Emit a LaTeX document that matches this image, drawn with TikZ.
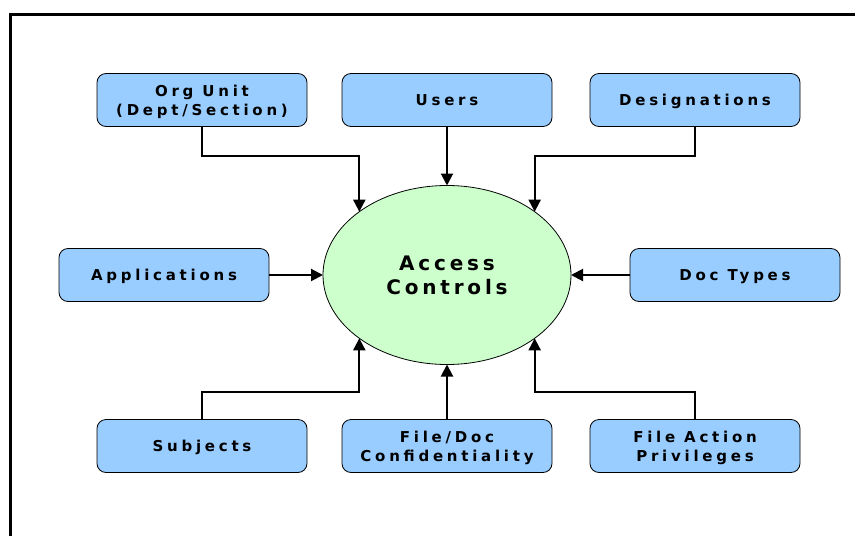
\documentclass[tikz,border=0pt]{standalone}
\usepackage{fontspec}
\newfontfamily\lblfont[LetterSpace=25]{DejaVu Sans}
\newfontfamily\hubfont[LetterSpace=19]{DejaVu Sans}
\usetikzlibrary{positioning,shapes.geometric,arrows.meta}

\begin{document}
\begin{tikzpicture}[x=1pt, y=-1pt, node distance = 57pt and 36pt,
  entity/.style = {draw, thick, fill={rgb,255:red,153;green,204;blue,255},
    rounded corners=9pt, minimum width=210pt, minimum height=53pt,
    align=center, outer sep=0pt, text depth=0pt,
    font=\lblfont\bfseries\fontsize{15}{19}\selectfont},
  hub/.style = {draw, thick, fill={rgb,255:red,204;green,255;blue,204},
    ellipse, minimum width=248pt, minimum height=179pt, inner sep=0pt,
    align=center, outer sep=0pt, text depth=0pt,
    font=\hubfont\bfseries\fontsize{20}{24}\selectfont},
  arr/.style = {line width=2pt, -{Triangle[length=12pt,width=12pt]}}
  ]
  \useasboundingbox (0,0) rectangle (855,536);
  \draw[line width=3pt] (10,540) -- (10,14) -- (860,14);

  \node (ac) [hub] at (447,275) {Access\\Controls};
  \node (users) [entity,above=59pt of ac] {Users};
  \node (org) [entity,left=35pt of users] {Org Unit\\(Dept/Section)};
  \node (desig) [entity,right=38pt of users] {Designations};
  \node (apps) [entity,left=54pt of ac] {Applications};
  \node (doctypes) [entity,right=59pt of ac] {Doc Types};
  \node (filedoc) [entity,below=55pt of ac] {File/Doc\\Confidentiality};
  \node (subj) [entity,left=35pt of filedoc] {Subjects};
  \node (fileact) [entity,right=38pt of filedoc] {File Action\\Privileges};

  \draw[arr] (org.south) -- ++(0,29) -| (ac.north west);
  \draw[arr] (users) -- (ac);
  \draw[arr] (desig.south) -- ++(0,29) -| (ac.north east);
  \draw[arr] (apps) -- (ac);
  \draw[arr] (doctypes) -- (ac);
  \draw[arr] (subj.north) -- ++(0,-28) -| (ac.south west);
  \draw[arr] (filedoc) -- (ac);
  \draw[arr] (fileact.north) -- ++(0,-28) -| (ac.south east);
\end{tikzpicture}
\end{document}
